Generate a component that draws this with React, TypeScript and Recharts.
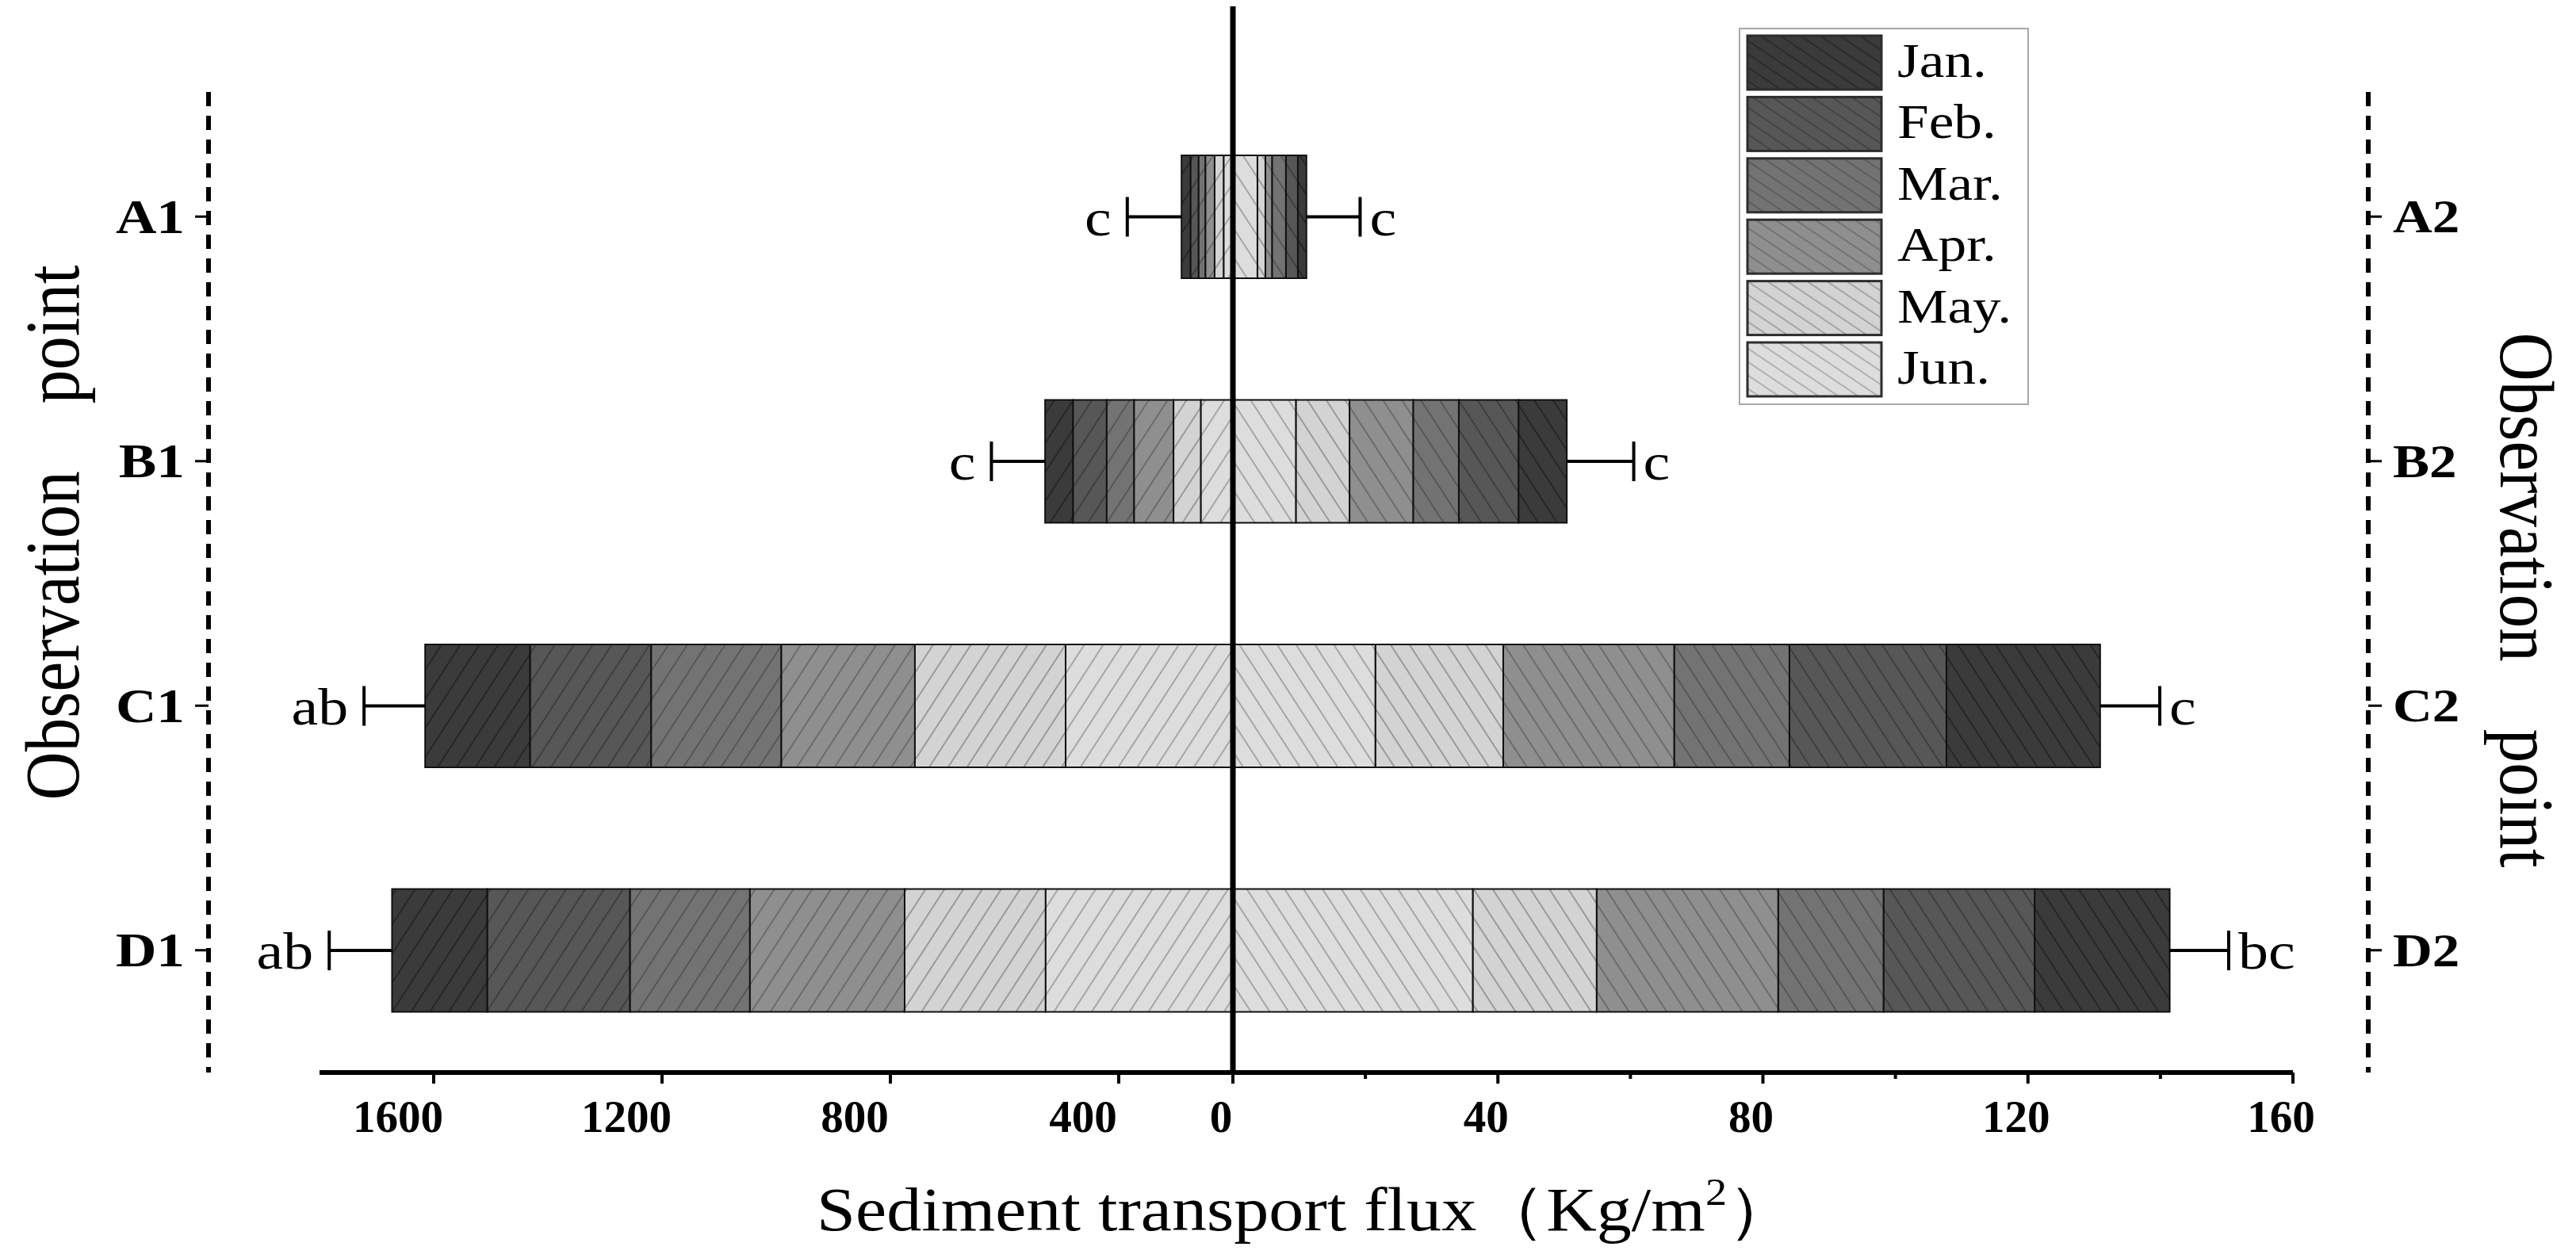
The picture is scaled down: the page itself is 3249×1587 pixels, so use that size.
import React from 'react';
import { BarChart, Bar, XAxis, YAxis, LabelList, Legend, Label } from 'recharts';

// ---------------- data ----------------
const MONTH_KEYS = ['Jan', 'Feb', 'Mar', 'Apr', 'May', 'Jun'];
const MONTH_NAMES = ['Jan.', 'Feb.', 'Mar.', 'Apr.', 'May.', 'Jun.'];
// stacking order from the centre line outwards
const STACK_ORDER = ['Jun', 'May', 'Apr', 'Mar', 'Feb', 'Jan'];

const LEFT_POINTS = ['A1', 'B1', 'C1', 'D1'];
const RIGHT_POINTS = ['A2', 'B2', 'C2', 'D2'];

// left half (Kg/m2)
const LEFT_JAN = [16, 49, 184, 167];
const LEFT_FEB = [14, 59, 212, 250];
const LEFT_MAR = [12, 48, 228, 210];
const LEFT_APR = [16, 69, 234, 271];
const LEFT_MAY = [16, 48, 264, 247];
const LEFT_JUN = [16, 56, 293, 328];
const LEFT_ERR = [95, 94, 107, 110];
const LEFT_LETTERS = ['c', 'c', 'ab', 'ab'];

// right half (Kg/m2)
const RIGHT_JAN = [1.3, 7.3, 23.2, 20.4];
const RIGHT_FEB = [1.8, 9.0, 23.7, 22.8];
const RIGHT_MAR = [2.1, 6.9, 17.4, 15.9];
const RIGHT_APR = [1.0, 9.6, 25.8, 27.4];
const RIGHT_MAY = [1.2, 8.1, 19.3, 18.7];
const RIGHT_JUN = [3.7, 9.5, 21.5, 36.2];
const RIGHT_ERR = [8.1, 10.1, 9.0, 8.9];
const RIGHT_LETTERS = ['c', 'c', 'c', 'bc'];

// axes
const LEFT_DOMAIN = [200, 1800]; // left axis value at the centre line is 200
const LEFT_TICKS = [400, 800, 1200, 1600];
const RIGHT_DOMAIN = [0, 160];
const RIGHT_TICKS = [0, 20, 40, 60, 80, 100, 120, 140, 160];
const RIGHT_LABELLED = [0, 40, 80, 120, 160];

// ---------------- table building ----------------
function buildRows(
  points: string[],
  series: Record<string, number[]>,
  err: number[],
  letters: string[],
  origin: number
) {
  return points.map((name, i) => {
    const row: any = { name, letter: letters[i] };
    let acc = origin;
    for (const k of STACK_ORDER) {
      const v = series[k][i];
      row[k] = [acc, acc + v];
      acc += v;
    }
    row.err = [acc, acc + err[i]];
    return row;
  });
}

const LEFT_ROWS = buildRows(
  LEFT_POINTS,
  { Jan: LEFT_JAN, Feb: LEFT_FEB, Mar: LEFT_MAR, Apr: LEFT_APR, May: LEFT_MAY, Jun: LEFT_JUN },
  LEFT_ERR,
  LEFT_LETTERS,
  LEFT_DOMAIN[0]
);
const RIGHT_ROWS = buildRows(
  RIGHT_POINTS,
  { Jan: RIGHT_JAN, Feb: RIGHT_FEB, Mar: RIGHT_MAR, Apr: RIGHT_APR, May: RIGHT_MAY, Jun: RIGHT_JUN },
  RIGHT_ERR,
  RIGHT_LETTERS,
  RIGHT_DOMAIN[0]
);

// ---------------- styles ----------------
const FONT = "'Liberation Serif', 'Times New Roman', 'DejaVu Serif', serif";
const FILLS: Record<string, string> = {
  Jan: '#3b3b3b',
  Feb: '#575757',
  Mar: '#737373',
  Apr: '#8f8f8f',
  May: '#d3d3d3',
  Jun: '#dddddd',
};
const HATCH: Record<string, string> = {
  Jan: '#262626',
  Feb: '#3f3f3f',
  Mar: '#575757',
  Apr: '#6c6c6c',
  May: '#9a9a9a',
  Jun: '#a6a6a6',
};
const SX = 1.15; // horizontal stretch of the lettering
const BAR_SIZE = 155;
const PAD_TOP = 119;
const TICK_SIZE = 14;
const TICK_MARGIN = 22;
const MINOR_TICK = 8;

const page = (x: number, y: number) => ({ position: 'absolute' as const, left: x - 8, top: y - 8 });

function StretchText(props: any) {
  const {
    x,
    y,
    sx = SX,
    anchor = 'start',
    fontSize,
    bold = false,
    rotate = 0,
    dy = 0,
    baseline,
    children,
  } = props;
  return (
    <text
      transform={`translate(${x},${y}) scale(${sx},1)${rotate ? ` rotate(${rotate})` : ''}`}
      x={0}
      y={0}
      dy={dy}
      textAnchor={anchor}
      dominantBaseline={baseline}
      fontSize={fontSize}
      fontFamily={FONT}
      fontWeight={bold ? 'bold' : 'normal'}
      fill="#000"
      style={{ whiteSpace: 'pre' }}
    >
      {children}
    </text>
  );
}

function Patterns() {
  const mk = (id: string, k: string, size: number, angle: number, w: number) => (
    <pattern
      key={id}
      id={id}
      patternUnits="userSpaceOnUse"
      width={size}
      height={size}
      patternTransform={`rotate(${angle})`}
    >
      <rect x={0} y={0} width={size} height={size} fill={FILLS[k]} />
      <line x1={0} y1={size / 2} x2={size} y2={size / 2} stroke={HATCH[k]} strokeWidth={w} />
    </pattern>
  );
  return (
    <defs>
      {MONTH_KEYS.map((k) => mk(`hL-${k}`, k, 20, -57, 2))}
      {MONTH_KEYS.map((k) => mk(`hR-${k}`, k, 20, 57, 2))}
      {MONTH_KEYS.map((k) => mk(`hG-${k}`, k, 14, 34, 1.6))}
    </defs>
  );
}

const errShape = (side: 'left' | 'right') => (props: any) => {
  const { x, y, width, height } = props;
  if (x == null || width == null) return <g />;
  const a = x;
  const b = x + width;
  const outer = side === 'left' ? Math.min(a, b) : Math.max(a, b);
  const inner = side === 'left' ? Math.max(a, b) : Math.min(a, b);
  const cy = y + height / 2;
  return (
    <g>
      <line x1={inner} y1={cy} x2={outer} y2={cy} stroke="#000" strokeWidth={4} />
      <line x1={outer} y1={cy - 25} x2={outer} y2={cy + 25} stroke="#000" strokeWidth={4} />
    </g>
  );
};

const letterContent = (side: 'left' | 'right', gap: number) => (props: any) => {
  const vb = props.viewBox || props;
  const { x, y, width, height } = vb;
  if (x == null) return null;
  const outer = side === 'left' ? Math.min(x, x + width) : Math.max(x, x + width);
  const tx = side === 'left' ? outer - gap : outer + gap;
  return (
    <StretchText x={tx} y={y + height / 2} dy={0.35 * 66} anchor={side === 'left' ? 'end' : 'start'} fontSize={66}>
      {props.value}
    </StretchText>
  );
};

const TICK_FS = 56;
// draws the tick mark (long for labelled values, short for the others) and the label
const bottomTick = (dx: number, labelled: number[] | null) => (props: any) => {
  const { x, y, payload } = props;
  const major = !labelled || labelled.includes(payload.value);
  const y0 = y - TICK_SIZE - TICK_MARGIN;
  return (
    <g>
      <line x1={x} y1={y0} x2={x} y2={y0 + (major ? TICK_SIZE : MINOR_TICK)} stroke="#000" strokeWidth={4} />
      {major && (
        <StretchText x={x + dx} y={y} dy={0.7 * TICK_FS} anchor="middle" fontSize={TICK_FS} sx={1.02} bold>
          {String(payload.value)}
        </StretchText>
      )}
    </g>
  );
};

const catTick = (anchor: 'start' | 'end', fs: number) => (props: any) => {
  const { x, y, payload } = props;
  return (
    <StretchText x={x} y={y} dy={0.33 * fs} anchor={anchor} fontSize={fs} bold>
      {payload.value}
    </StretchText>
  );
};

const obsLabel = (x: number, y: number, rot: number) => () => (
  <StretchText x={x} y={y} rotate={rot} anchor="middle" baseline="central" fontSize={85}>
    {'Observation    point'}
  </StretchText>
);

const renderLegend = (props: any) => {
  const items = (props.payload || [])
    .filter((p: any) => p.type !== 'none' && MONTH_KEYS.includes(p.dataKey))
    .sort((a: any, b: any) => MONTH_KEYS.indexOf(a.dataKey) - MONTH_KEYS.indexOf(b.dataKey));
  return (
    <svg width={366} height={476} style={{ display: 'block' }}>
      <rect x={1} y={1} width={364} height={474} fill="#fff" stroke="#a8a8a8" strokeWidth={2} />
      {items.map((p: any, i: number) => (
        <g key={p.dataKey}>
          <rect
            x={11}
            y={10 + i * 77.4}
            width={169}
            height={68}
            fill={`url(#hG-${p.dataKey})`}
            stroke="#2d2d2d"
            strokeWidth={3}
          />
          <StretchText x={200} y={10 + i * 77.4 + 52} fontSize={61} sx={1.17}>
            {p.value}
          </StretchText>
        </g>
      ))}
    </svg>
  );
};

const axisLine = { stroke: '#000', strokeWidth: 6 };
const centreLine = { stroke: '#000', strokeWidth: 7 };
const dashedLine = { stroke: '#000', strokeWidth: 6, strokeDasharray: '18 12' };

export default function App() {
  return (
    <div style={{ position: 'relative', width: 3233, height: 1571, background: '#fff' }}>
      <svg style={{ position: 'absolute', left: 0, top: 0 }} width={3233} height={1571}>
        <Patterns />
        <StretchText x={1030 - 8} y={1552 - 8} fontSize={78} sx={1.13}>
          {'Sediment transport flux（Kg/m'}
          <tspan dy={-32} fontSize={48}>
            2
          </tspan>
          <tspan dy={32}>）</tspan>
        </StretchText>
      </svg>

      {/* left half */}
      <div style={page(0, 0)}>
        <BarChart
          width={1555}
          height={1587}
          layout="vertical"
          data={LEFT_ROWS}
          margin={{ top: 0, right: 0, bottom: 114, left: 403 }}
          barGap={-BAR_SIZE}
          barSize={BAR_SIZE}
        >
          <XAxis
            type="number"
            domain={LEFT_DOMAIN}
            reversed
            ticks={LEFT_TICKS}
            interval={0}
            height={120}
            axisLine={axisLine}
            tickLine={false}
            tickSize={TICK_SIZE}
            tickMargin={TICK_MARGIN}
            tick={bottomTick(-45, null)}
          />
          <YAxis type="category" dataKey="name" hide padding={{ top: PAD_TOP, bottom: 0 }} />
          {MONTH_KEYS.map((k, i) => (
            <Bar
              key={k}
              dataKey={k}
              name={MONTH_NAMES[i]}
              fill={`url(#hL-${k})`}
              stroke="#111"
              strokeWidth={2}
              isAnimationActive={false}
            />
          ))}
          <Bar dataKey="err" legendType="none" shape={errShape('left')} isAnimationActive={false}>
            <LabelList dataKey="letter" content={letterContent('left', 20)} />
          </Bar>
        </BarChart>
      </div>

      {/* right half */}
      <div style={page(1500, 0)}>
        <BarChart
          width={1452}
          height={1587}
          layout="vertical"
          data={RIGHT_ROWS}
          margin={{ top: 0, right: 60, bottom: 114, left: 0 }}
          barGap={-BAR_SIZE}
          barSize={BAR_SIZE}
        >
          <XAxis
            type="number"
            domain={RIGHT_DOMAIN}
            ticks={RIGHT_TICKS}
            interval={0}
            height={120}
            axisLine={axisLine}
            tickLine={false}
            tickSize={TICK_SIZE}
            tickMargin={TICK_MARGIN}
            tick={bottomTick(-15, RIGHT_LABELLED)}
          />
          <YAxis
            type="category"
            dataKey="name"
            width={55}
            tick={false}
            tickLine={false}
            axisLine={centreLine}
            padding={{ top: PAD_TOP, bottom: 0 }}
          />
          {MONTH_KEYS.map((k, i) => (
            <Bar
              key={k}
              dataKey={k}
              name={MONTH_NAMES[i]}
              fill={`url(#hR-${k})`}
              stroke="#111"
              strokeWidth={2}
              isAnimationActive={false}
            />
          ))}
          <Bar dataKey="err" legendType="none" shape={errShape('right')} isAnimationActive={false}>
            <LabelList dataKey="letter" content={letterContent('right', 12)} />
          </Bar>
          <Legend
            layout="vertical"
            align="center"
            verticalAlign="middle"
            wrapperStyle={{ left: 693, top: 35, width: 366, height: 476 }}
            content={renderLegend}
          />
        </BarChart>
      </div>

      {/* left dashed category axis */}
      <div style={page(0, 0)}>
        <BarChart width={300} height={1400} layout="vertical" data={LEFT_ROWS} margin={{ top: 116, right: 0, bottom: 47, left: 0 }}>
          <XAxis type="number" hide />
          <YAxis
            type="category"
            dataKey="name"
            width={263}
            interval={0}
            padding={{ top: 3, bottom: 0 }}
            axisLine={dashedLine}
            tickLine={{ stroke: '#000', strokeWidth: 3 }}
            tickSize={17}
            tickMargin={13}
            tick={catTick('end', 62)}
          >
            <Label content={obsLabel(66, 672, -90)} />
          </YAxis>
        </BarChart>
      </div>

      {/* right dashed category axis */}
      <div style={page(2900, 0)}>
        <BarChart width={341} height={1400} layout="vertical" data={RIGHT_ROWS} margin={{ top: 116, right: 0, bottom: 47, left: 0 }}>
          <XAxis type="number" hide />
          <YAxis
            type="category"
            dataKey="name"
            orientation="right"
            width={254}
            interval={0}
            padding={{ top: 3, bottom: 0 }}
            axisLine={dashedLine}
            tickLine={{ stroke: '#000', strokeWidth: 3 }}
            tickSize={17}
            tickMargin={14}
            tick={catTick('start', 60)}
          >
            <Label content={obsLabel(287, 757, 90)} />
          </YAxis>
        </BarChart>
      </div>
    </div>
  );
}
